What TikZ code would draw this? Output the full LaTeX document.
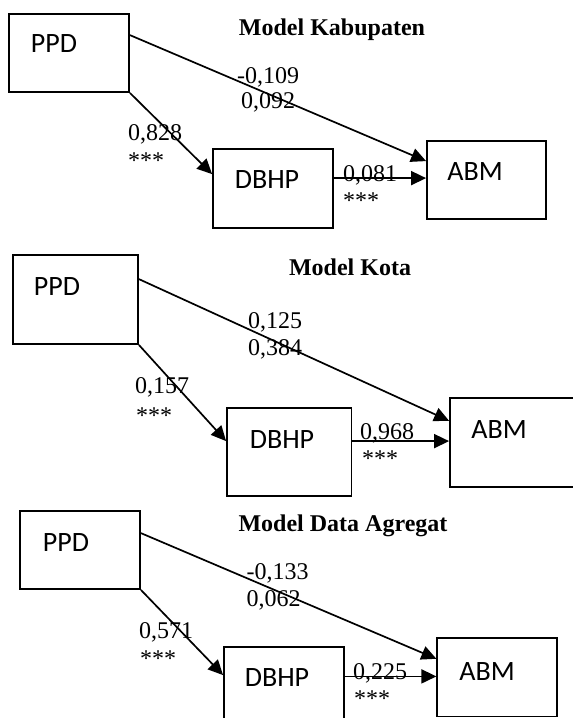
\documentclass[tikz,border=0pt]{standalone}
\usepackage{fontspec}
\setmainfont{Liberation Serif}
\newfontfamily\boxfont{Carlito}
\usetikzlibrary{arrows.meta,calc}
\tikzset{
  box/.style={draw, line width=1.8pt, inner sep=0pt},
  boxtxt/.style={font=\boxfont\fontsize{28}{30}\selectfont, inner sep=0pt, anchor=base},
  ttl/.style={font=\bfseries\fontsize{24}{26}\selectfont, inner sep=0pt, anchor=base},
  num/.style={font=\fontsize{24}{26}\selectfont, inner sep=0pt, anchor=base west},
  arr/.style={line width=1.7pt, -{Triangle[length=15pt,width=14pt]}}
}
\begin{document}
\begin{tikzpicture}[x=1pt,y=-1pt]
\clip (0,0) rectangle (573,718);
\fill[white] (0,0) rectangle (573,718);

% ---------- Model Kabupaten ----------
\node[box, minimum width=120, minimum height=78] (ppd1) at (69,53) {};
\node[box, minimum width=120, minimum height=79] (dbhp1) at (273,188.5) {};
\node[box, minimum width=119, minimum height=78] (abm1) at (486.5,180) {};
\node[boxtxt] (ppd1t) at (54,52) {PPD};
\node[boxtxt] (dbhp1t) at (267,188) {DBHP};
\node[boxtxt] (abm1t) at (475,180) {ABM};
\node[ttl] (t1) at (332,35) {Model Kabupaten};
\draw[arr] ($(ppd1.north east)+(0,22)$) -- ($(abm1.north west)+(0,21)$);
\draw[arr] (ppd1.south east) -- ($(dbhp1.north west)+(0,26)$);
\coordinate (c1) at ($(dbhp1.north east)+(0,30)$);
\draw[arr] (c1) -- (c1 -| abm1.west);
\node[num] (l1a) at (237,83) {-0,109};
\node[num] (l1b) at (241,108) {0,092};
\node[num] (l1c) at (128,140) {0,828};
\node[num] (l1d) at (128,168) {***};
\node[num] (l1e) at (343,181) {0,081};
\node[num] (l1f) at (343,208) {***};

% ---------- Model Kota ----------
\node[box, minimum width=125, minimum height=89] (ppd2) at (75.5,299.5) {};
\node[box, minimum width=124.5, minimum height=88] (dbhp2) at (289.25,452) {};
\node[box, minimum width=126, minimum height=88.4] (abm2) at (513,442.5) {};
\node[boxtxt] (ppd2t) at (57,295) {PPD};
\node[boxtxt] (dbhp2t) at (282,448) {DBHP};
\node[boxtxt] (abm2t) at (499,438) {ABM};
\node[ttl] (t2) at (350,275) {Model Kota};
\draw[arr] ($(ppd2.north east)+(0,25)$) -- ($(abm2.north west)+(0,23.4)$);
\draw[arr] (ppd2.south east) -- ($(dbhp2.north west)+(0,34)$);
\coordinate (c2) at ($(dbhp2.north east)+(0,34)$);
\draw[arr] (c2) -- (c2 -| abm2.west);
\node[num] (l2a) at (248,328) {0,125};
\node[num] (l2b) at (248,355) {0,384};
\node[num] (l2c) at (135,393) {0,157};
\node[num] (l2d) at (136,423) {***};
\node[num] (l2e) at (360,439) {0,968};
\node[num] (l2f) at (362,466) {***};

% ---------- Model Data Agregat ----------
\node[box, minimum width=120, minimum height=78] (ppd3) at (80,550) {};
\node[box, minimum width=120, minimum height=80] (dbhp3) at (284,687) {};
\node[box, minimum width=119.4, minimum height=78.2] (abm3) at (497,677.4) {};
\node[boxtxt] (ppd3t) at (66,551) {PPD};
\node[boxtxt] (dbhp3t) at (277,686.5) {DBHP};
\node[boxtxt] (abm3t) at (487,680) {ABM};
\node[ttl] (t3) at (343,531) {Model Data Agregat};
\draw[arr] ($(ppd3.north east)+(0,23)$) -- ($(abm3.north west)+(0,21.4)$);
\draw[arr] (ppd3.south east) -- ($(dbhp3.north west)+(0,29)$);
\coordinate (c3) at ($(dbhp3.north east)+(0,30.3)$);
\draw[arr] (c3) -- (c3 -| abm3.west);
\node[num] (l3a) at (246.5,579) {-0,133};
\node[num] (l3b) at (246.5,606) {0,062};
\node[num] (l3c) at (139,638) {0,571};
\node[num] (l3d) at (140,666) {***};
\node[num] (l3e) at (353,679) {0,225};
\node[num] (l3f) at (354,706) {***};
\end{tikzpicture}
\end{document}
